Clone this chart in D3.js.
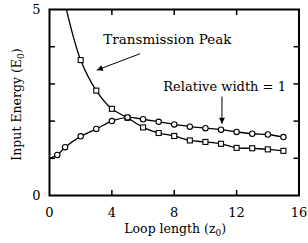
<!DOCTYPE html>
<html>
<head>
<meta charset="utf-8">
<script src="https://cdn.jsdelivr.net/npm/d3@7"></script>
<style>
  body { margin: 0; background: #fff; }
  text { font-family: "DejaVu Serif", serif; fill: #000; }
</style>
</head>
<body>
<div id="chart"></div>
<script>
// values
var peakX = [1, 2, 3, 4, 5, 6, 7, 8, 9, 10, 11, 12, 13, 14, 15];
var peakY = [5.15, 3.64, 2.82, 2.33, 2.09, 1.83, 1.68, 1.6, 1.48, 1.44, 1.39, 1.28, 1.27, 1.24, 1.2];
var widthX = [0, 0.5, 1, 2, 3, 4, 5, 6, 7, 8, 9, 10, 11, 12, 13, 14, 15];
var widthY = [1.0, 1.09, 1.3, 1.59, 1.79, 2.0, 2.1, 2.05, 1.98, 1.91, 1.85, 1.81, 1.77, 1.71, 1.66, 1.64, 1.57];
var xTicks = [0, 4, 8, 12, 16];
var xInner = [4, 8, 12];
var yInner = [1, 2, 3, 4];
var yTickLabels = [0, 5];

var W = 308, H = 243;
var margin = {top: 9.5, right: 9, bottom: 47.5, left: 49.5},
  width = W - margin.left - margin.right,
  height = H - margin.top - margin.bottom;

var svg = d3.select("#chart")
.append("svg")
  .attr("width", W)
  .attr("height", H)
.append("g")
  .attr("transform", "translate(" + margin.left + "," + margin.top + ")");

var x = d3.scaleLinear().domain([0, 16]).range([0, width]);
var y = d3.scaleLinear().domain([0, 5]).range([height, 0]);

var defs = svg.append("defs");
defs.append("clipPath").attr("id", "clip")
  .append("rect").attr("width", width).attr("height", height);
defs.append("marker")
  .attr("id", "arr")
  .attr("viewBox", "0 0 10 10")
  .attr("refX", 10).attr("refY", 5)
  .attr("markerWidth", 7).attr("markerHeight", 6)
  .attr("markerUnits", "userSpaceOnUse")
  .attr("orient", "auto")
.append("path")
  .attr("d", "M0,0L10,5L0,10z")
  .style("fill", "black");

// inward ticks on all four sides
var tl = 5.5;
svg.selectAll(".xt").data(xInner).enter().append("line")
  .attr("x1", function(d) { return x(d); }).attr("x2", function(d) { return x(d); })
  .attr("y1", height).attr("y2", height - tl)
  .style("stroke", "black").style("stroke-width", 1.5);
svg.selectAll(".xtt").data(xInner).enter().append("line")
  .attr("x1", function(d) { return x(d); }).attr("x2", function(d) { return x(d); })
  .attr("y1", 0).attr("y2", tl)
  .style("stroke", "black").style("stroke-width", 1.5);
svg.selectAll(".yt").data(yInner).enter().append("line")
  .attr("x1", 0).attr("x2", tl)
  .attr("y1", function(d) { return y(d); }).attr("y2", function(d) { return y(d); })
  .style("stroke", "black").style("stroke-width", 1.5);
svg.selectAll(".ytr").data(yInner).enter().append("line")
  .attr("x1", width).attr("x2", width - tl)
  .attr("y1", function(d) { return y(d); }).attr("y2", function(d) { return y(d); })
  .style("stroke", "black").style("stroke-width", 1.5);

// frame
svg.append("rect")
  .attr("width", width).attr("height", height)
  .style("fill", "none").style("stroke", "black").style("stroke-width", 2);

// tick labels
svg.selectAll(".xl").data(xTicks).enter().append("text")
  .attr("x", function(d) { return x(d); })
  .attr("y", height + 21.5)
  .style("text-anchor", "middle").style("font-size", "13px")
  .text(function(d) { return d; });
svg.selectAll(".yl").data(yTickLabels).enter().append("text")
  .attr("x", -9)
  .attr("y", function(d) { return y(d) + 4.5; })
  .style("text-anchor", "end").style("font-size", "13px")
  .text(function(d) { return d; });

// axis titles
var xt = svg.append("text")
  .attr("x", width / 2 + 1).attr("y", height + 37.5)
  .style("text-anchor", "middle").style("font-size", "12.5px");
xt.append("tspan").text("Loop length (z");
xt.append("tspan").attr("dy", 3).style("font-size", "9px").text("0");
xt.append("tspan").attr("dy", -3).text(")");

var yt = svg.append("text")
  .attr("transform", "translate(" + (-28.5) + "," + (y(2.5) + 2) + ") rotate(-90)")
  .style("text-anchor", "middle").style("font-size", "12.5px");
yt.append("tspan").text("Input Energy (E");
yt.append("tspan").attr("dy", 3).style("font-size", "9px").text("0");
yt.append("tspan").attr("dy", -3).text(")");

// series
var peak = peakX.map(function(d, i) { return {x: d, y: peakY[i]}; });
var wid = widthX.map(function(d, i) { return {x: d, y: widthY[i]}; });

var line = d3.line()
  .x(function(d) { return x(d.x); })
  .y(function(d) { return y(d.y); })
  .curve(d3.curveCatmullRom);

var plot = svg.append("g").attr("clip-path", "url(#clip)");

plot.append("path").datum(peak)
  .attr("d", line)
  .style("fill", "none").style("stroke", "black").style("stroke-width", 1.3);
plot.append("path").datum(wid)
  .attr("d", line)
  .style("fill", "none").style("stroke", "black").style("stroke-width", 1.3);

var s = 5;
plot.selectAll(".sq").data(peak.filter(function(d) { return d.y < 5; })).enter().append("rect")
  .attr("x", function(d) { return x(d.x) - s / 2; })
  .attr("y", function(d) { return y(d.y) - s / 2; })
  .attr("width", s).attr("height", s)
  .style("fill", "white").style("stroke", "black").style("stroke-width", 1.1);
plot.selectAll(".ci").data(wid.filter(function(d) { return d.x > 0; })).enter().append("circle")
  .attr("cx", function(d) { return x(d.x); })
  .attr("cy", function(d) { return y(d.y); })
  .attr("r", 2.7)
  .style("fill", "white").style("stroke", "black").style("stroke-width", 1.1);

// annotations
svg.append("text")
  .attr("x", x(3.45)).attr("y", y(4.06))
  .style("font-size", "13.5px")
  .text("Transmission Peak");
svg.append("line")
  .attr("x1", x(5.8)).attr("y1", y(3.81))
  .attr("x2", x(3.03)).attr("y2", y(3.37))
  .style("stroke", "black").style("stroke-width", 1)
  .attr("marker-end", "url(#arr)");

svg.append("text")
  .attr("x", x(7.3)).attr("y", y(2.8))
  .style("font-size", "13px")
  .text("Relative width = 1");
svg.append("line")
  .attr("x1", x(11.06)).attr("y1", y(2.66))
  .attr("x2", x(11.06)).attr("y2", y(1.93))
  .style("stroke", "black").style("stroke-width", 1)
  .attr("marker-end", "url(#arr)");
</script>
</body>
</html>
